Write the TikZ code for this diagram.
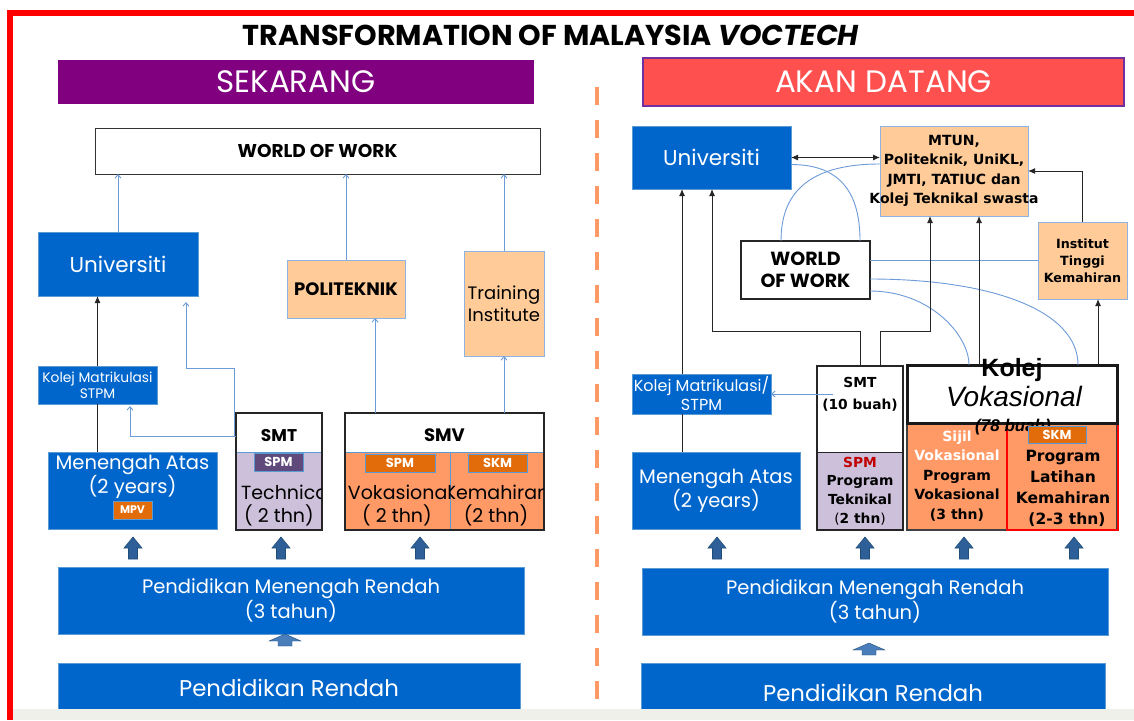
\documentclass[tikz,border=0pt]{standalone}
\usepackage{fontspec}
\setmainfont{Poppins}
\newfontfamily\dvs{DejaVu Sans}
\newfontfamily\lib{Liberation Sans}
\usetikzlibrary{arrows.meta}

\definecolor{framered}{HTML}{FF0000}
\definecolor{stripgrey}{HTML}{F0F0EB}
\definecolor{sekpurple}{HTML}{800080}
\definecolor{akanred}{HTML}{FF5050}
\definecolor{akanedge}{HTML}{7030A0}
\definecolor{boxblue}{HTML}{0066CC}
\definecolor{boxedge}{HTML}{5B9BD5}
\definecolor{peach}{HTML}{FFCC99}
\definecolor{peachedge}{HTML}{8DB3E2}
\definecolor{lavender}{HTML}{CCC0DA}
\definecolor{orangecell}{HTML}{FF9966}
\definecolor{darkorange}{HTML}{E26B0A}
\definecolor{spmpurple}{HTML}{604A7B}
\definecolor{spmred}{HTML}{C00000}
\definecolor{arrowfill}{HTML}{2F5F98}
\definecolor{arrowedge}{HTML}{1F4E79}
\definecolor{chevronfill}{HTML}{4A7EBB}
\definecolor{connblue}{HTML}{6C9BD8}
\definecolor{dashorange}{HTML}{FF9966}

% box from corner (x1,y1) to (x2,y2): name, x1, y1, x2, y2, box style, text style, text
\newcommand\mybox[8]{%
  \node[#6, minimum width={(#4)-(#2)}, minimum height={(#5)-(#3)}]
    (#1) at ({((#2)+(#4))/2},{((#3)+(#5))/2}) {};
  \node[txt, #7] (#1-t) at (#1.center) {#8};}

\begin{document}
\begin{tikzpicture}[x=1pt, y=-1pt,
  base/.style={inner sep=0pt, outer sep=0pt},
  txt/.style={inner sep=0pt, outer sep=0pt, align=center},
  hdr/.style={base},
  hdrtext/.style={text=white, font=\fontsize{31}{34}\selectfont},
  bluebox/.style={base, fill=boxblue, draw=boxedge, line width=0.9pt},
  whitetext/.style={text=white},
  peachbox/.style={base, fill=peach, draw=peachedge, line width=0.9pt},
  plainbox/.style={base, fill=white, draw=black!80, line width=1pt},
  thickbox/.style={base, fill=white, draw=black!85, line width=2.2pt},
  cell/.style={base, draw=boxedge, line width=0.7pt},
  outline/.style={base, draw=black!85, line width=1.8pt},
  badge/.style={base, draw=boxedge, line width=0.7pt},
  badgetext/.style={text=white, font=\bfseries\fontsize{13}{14}\selectfont},
  bluearrow/.style={draw=connblue, line width=0.9pt, -{Straight Barb[length=3.5pt,width=6pt]}},
  blueline/.style={draw=connblue, line width=0.9pt},
  blkarrow/.style={draw=black!85, line width=1pt, -{Latex[length=7pt,width=6pt]}},
  blkline/.style={draw=black!85, line width=1pt},
  dashline/.style={draw=dashorange, line width=4pt, dash pattern=on 18pt off 15pt},
  blockup/.pic={\filldraw[fill=arrowfill, draw=arrowedge, line width=0.6pt]
    (0,0) -- (9,11) -- (4.5,11) -- (4.5,22) -- (-4.5,22) -- (-4.5,11) -- (-9,11) -- cycle;},
  chevron/.pic={\filldraw[fill=chevronfill, draw=arrowedge, line width=0.4pt]
    (0,0) -- (16,7) -- (7,7) -- (7,12) -- (-7,12) -- (-7,7) -- (-16,7) -- cycle;}
]
\useasboundingbox (0,0) rectangle (1134,720);
\fill[white] (0,0) rectangle (1134,720);

% frame
\fill[framered] (7,10) rectangle (1134,16);
\fill[framered] (7,10) rectangle (13,720);

% title
\node[txt, anchor=base, font=\bfseries\fontsize{28.7}{31}\selectfont] (title) at (551,45)
  {TRANSFORMATION OF MALAYSIA \textit{VOCTECH}};

% headers
\mybox{sek}{58}{60}{534}{104}{hdr, fill=sekpurple}{hdrtext}{SEKARANG}
\mybox{akan}{643}{58}{1124}{106}{hdr, fill=akanred, draw=akanedge, line width=1.2pt}{hdrtext}{AKAN DATANG}

% separator
\draw[dashline] (597,87) -- (597,720);

% ===================== SEKARANG =====================
\mybox{wow1}{95}{128}{540}{174}{plainbox}{font=\bfseries\fontsize{18.5}{20}\selectfont}{WORLD OF WORK}
\mybox{uni1}{38}{232}{198}{296}{bluebox}{whitetext, font=\fontsize{21.5}{24}\selectfont}{Universiti}
\mybox{poli}{287}{260}{405}{318}{peachbox}{font=\bfseries\fontsize{18}{20}\selectfont}{POLITEKNIK}
\mybox{train}{464}{251}{544}{356}{peachbox}{font=\fontsize{18}{22}\selectfont}{Training\\Institute}
\mybox{km1}{38}{366}{157}{404}{bluebox}{whitetext, font=\fontsize{13.8}{16}\selectfont}{Kolej Matrikulasi\\STPM}
\mybox{ma1}{48}{452}{217}{529}{bluebox}{whitetext, yshift=14pt, font=\fontsize{19.5}{24}\selectfont}{Menengah Atas\\(2 years)}
\mybox{mpv}{113}{501}{152}{519}{badge, fill=darkorange}{badgetext, font=\bfseries\fontsize{11}{12}\selectfont}{MPV}

% SMT (current)
\mybox{smt1top}{236}{413}{322}{452}{cell, fill=white}{font=\bfseries\fontsize{17}{18}\selectfont, yshift=-3pt}{SMT}
\mybox{smt1bot}{236}{452}{322}{530}{cell, fill=lavender}{}{}
\mybox{smt1}{236}{413}{322}{530}{outline}{}{}
\mybox{spm1}{254}{453}{303}{471}{badge, fill=spmpurple}{badgetext}{SPM}
\begin{scope}
  \clip (237,472) rectangle (321,529);
  \node[txt, font=\fontsize{19}{22}\selectfont] (tech1) at (287,492) {Technical};
\end{scope}
\node[txt, font=\fontsize{19}{22}\selectfont] (tech1y) at (279,515) {( 2 thn)};

% SMV
\mybox{smv1top}{345}{413}{544}{452}{cell, fill=white}{font=\bfseries\fontsize{18}{18}\selectfont, yshift=-3pt}{SMV}
\mybox{smv1a}{345}{452}{450}{530}{cell, fill=orangecell}{}{}
\mybox{smv1b}{450}{452}{544}{530}{cell, fill=orangecell}{}{}
\mybox{smv1}{345}{413}{544}{530}{outline}{}{}
\mybox{spm2}{365}{454}{435}{472}{badge, fill=darkorange}{badgetext}{SPM}
\mybox{skm1}{468}{454}{527}{472}{badge, fill=darkorange}{badgetext}{SKM}
\begin{scope}
  \clip (346,473) rectangle (450,529);
  \node[txt, font=\fontsize{19}{22}\selectfont] (vok1) at (400,492) {Vokasional};
\end{scope}
\begin{scope}
  \clip (450,473) rectangle (543,529);
  \node[txt, font=\fontsize{19}{22}\selectfont] (kem1) at (497,492) {Kemahiran};
\end{scope}
\node[txt, font=\fontsize{19}{22}\selectfont] (vok1y) at (397,515) {( 2 thn)};
\node[txt, font=\fontsize{19}{22}\selectfont] (kem1y) at (496,515) {(2 thn)};

% lower levels
\pic at (133,537) {blockup};
\pic at (281,537) {blockup};
\pic at (420,537) {blockup};
\mybox{pmr1}{58}{567}{524}{634}{bluebox}{whitetext, font=\fontsize{19.5}{23}\selectfont}{Pendidikan Menengah Rendah\\(3 tahun)}
\pic at (285,634) {chevron};
\mybox{pr1}{58}{663}{520}{713}{bluebox}{whitetext, font=\fontsize{22.8}{24}\selectfont}{Pendidikan Rendah}

% connectors
\draw[bluearrow] (uni1.north) -- (uni1.north |- wow1.south);
\draw[bluearrow] (poli.north) -- (poli.north |- wow1.south);
\draw[bluearrow] (train.north) -- (train.north |- wow1.south);
\draw[bluearrow] ([xshift=30pt]smv1.north west) -- ([xshift=30pt]smv1.north west |- poli.south);
\draw[bluearrow] (smv1.north -| train.south) -- (train.south);
\draw[bluearrow] ([yshift=35.5pt]smt1.west) -- (234,436) -- (234,368) -- (186,368) -- ([xshift=148pt,yshift=-6pt]uni1.south west);
\draw[bluearrow] ([yshift=35.5pt]smt1.west) -- (130,436) -- ([xshift=92pt,yshift=-2pt]km1.south west);
\draw[blkline] (km1.south |- ma1.north) -- (km1.south);
\draw[blkarrow] (km1.north) -- (km1.north |- uni1.south);

% ===================== AKAN DATANG =====================
\mybox{uni2}{632}{126}{791}{189}{bluebox}{whitetext, font=\fontsize{21.5}{24}\selectfont}{Universiti}
\mybox{mtun}{880}{126}{1028}{216}{peachbox}{font=\dvs\bfseries\fontsize{14}{19.5}\selectfont}{MTUN,\\Politeknik, UniKL,\\JMTI, TATIUC dan\\Kolej Teknikal swasta}
\mybox{wow2}{741}{241}{870}{299}{thickbox}{font=\bfseries\fontsize{19}{22}\selectfont}{WORLD\\OF WORK}
\mybox{itk}{1038}{222}{1127}{299}{peachbox}{font=\dvs\bfseries\fontsize{12.7}{17}\selectfont}{Institut\\Tinggi\\Kemahiran}
\mybox{km2}{632}{374}{771}{414}{bluebox}{whitetext, font=\fontsize{16}{19}\selectfont}{Kolej Matrikulasi/\\STPM}
\mybox{ma2}{632}{452}{800}{529}{bluebox}{whitetext, font=\fontsize{19.5}{24}\selectfont}{Menengah Atas\\(2 years)}

% SMT (future)
\mybox{smt2top}{817}{366}{903}{452}{base, fill=white}{font=\dvs\bfseries\fontsize{13.8}{22}\selectfont, yshift=15pt}{SMT\\(10 buah)}
\mybox{smt2bot}{817}{452}{903}{530}{base, fill=lavender, draw=black!85, line width=1pt}{font=\dvs\bfseries\fontsize{13.8}{18.7}\selectfont, yshift=0pt}{\textcolor{spmred}{SPM}\\Program\\Teknikal\\{\mdseries(}2 thn{\mdseries)}}
\mybox{smt2}{817}{366}{903}{530}{outline}{}{}

% Kolej Vokasional
\mybox{kvbot}{907}{423}{1117}{530}{base, fill=orangecell, draw=black!75, line width=1.5pt}{}{}
\mybox{kvred}{1007}{365}{1118}{530}{base, draw=framered, line width=2.5pt}{}{}
\mybox{kv}{907}{365}{1117}{423}{base, fill=white, draw=black!90, line width=3pt}{}{}
\node[txt, anchor=base, font=\lib\bfseries\fontsize{25}{28}\selectfont] (kvname) at (1012,376) {Kolej};
\node[txt, anchor=base, font=\lib\itshape\fontsize{28}{30}\selectfont] (kvname2) at (1014,406) {Vokasional};
\node[txt, anchor=base, font=\lib\bfseries\itshape\fontsize{17}{20}\selectfont] (kvcount) at (1013,431) {(78 buah)};
\mybox{skm2}{1028}{426}{1086}{443}{badge, fill=darkorange}{badgetext}{SKM}
\node[txt, font=\dvs\bfseries\fontsize{14}{19.5}\selectfont] (svtext) at (957,476)
  {\textcolor{white}{Sijil}\\\textcolor{white}{Vokasional}\\Program\\Vokasional\\(3 thn)};
\node[txt, font=\dvs\bfseries\fontsize{15.5}{21}\selectfont] (pltext) at (1063,488)
  {Program\\Latihan\\Kemahiran\\\hspace*{8pt}(2-3 thn)};

% lower levels
\pic at (717,537) {blockup};
\pic at (865,537) {blockup};
\pic at (964,537) {blockup};
\pic at (1074,537) {blockup};
\mybox{pmr2}{642}{568}{1108}{635}{bluebox}{whitetext, font=\fontsize{19.5}{23}\selectfont}{Pendidikan Menengah Rendah\\(3 tahun)}
\pic at (869,643) {chevron};
\mybox{pr2}{641}{663}{1105}{713}{bluebox}{whitetext, yshift=-4.5pt, font=\fontsize{22.8}{24}\selectfont}{Pendidikan Rendah}

% connectors
\draw[blkline, {Latex[length=7pt,width=6pt]}-{Latex[length=7pt,width=6pt]}] (uni2.east) -- (uni2.east -| mtun.west);
\draw[blueline] ([yshift=-7pt]uni2.east) .. controls +(52,0) and +(0,-45) .. ([xshift=-10pt]wow2.north east);
\draw[blueline] ([yshift=7pt]mtun.west) .. controls +(-75,0) and +(0,-45) .. ([xshift=40pt]wow2.north west);
\draw[blueline] (wow2.east |- itk.west) -- (itk.west);
\draw[blueline] ([yshift=-9pt]wow2.east) .. controls +(120,0) and +(0,-55) .. ([xshift=-39pt]kv.north east);
\draw[blueline] ([yshift=-21pt]wow2.east) .. controls +(60,0) and +(0,-30) .. ([xshift=62pt]kv.north west);
\draw[blkline] ([xshift=50pt]ma2.north west) -- ([xshift=50pt]km2.south west);
\draw[blkarrow] ([xshift=50pt]km2.north west) -- ([xshift=50pt]uni2.south west);
\draw[blkarrow] (smt2.north) -- ++(0,-35) -| ([xshift=80pt]uni2.south west);
\draw[blkarrow] ([xshift=20pt]smt2.north) -- ++(0,-35) -| ([xshift=50pt]mtun.south west);
\draw[blkarrow] ([xshift=72pt]kv.north west) -- ([xshift=72pt]kv.north west |- mtun.south);
\draw[blkarrow] ([xshift=-19pt]kv.north east) -- ([xshift=-19pt]kv.north east |- itk.south);
\draw[blkarrow] (itk.north) |- (mtun.east);
\draw[bluearrow] ([xshift=16pt]smt2.west |- km2.east) -- (km2.east);

% page footer strip
\fill[stripgrey] (13,709) rectangle (1134,720);
\end{tikzpicture}
\end{document}
